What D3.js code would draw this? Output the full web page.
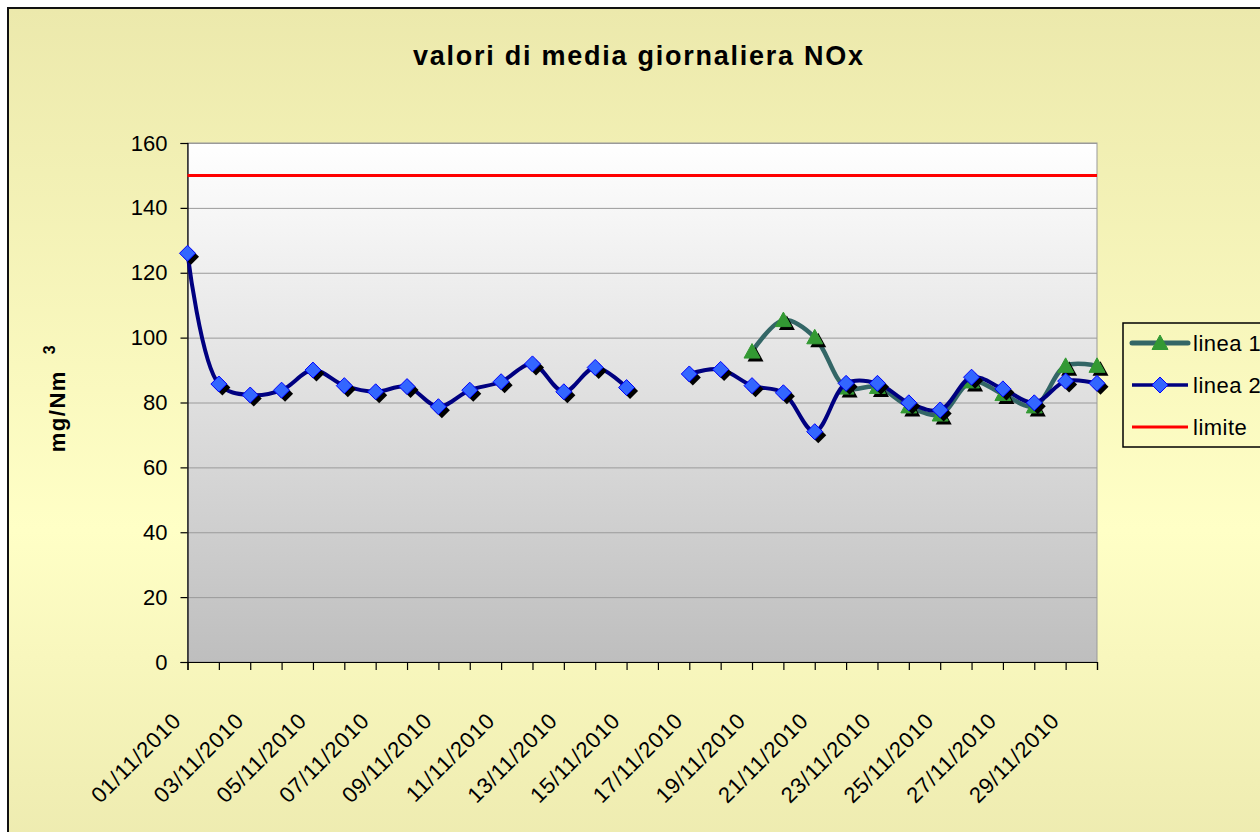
<!DOCTYPE html>
<html>
<head>
<meta charset="utf-8">
<script src="https://cdn.jsdelivr.net/npm/d3@7"></script>
<style>
  html, body { margin: 0; padding: 0; background: #fff; }
  svg { display: block; }
  text { font-family: "Liberation Sans", Arial, sans-serif; fill: #000; }
</style>
</head>
<body>
<svg id="chart"></svg>
<script>
// categories (one per day)
var dates = ["01/11/2010", "02/11/2010", "03/11/2010", "04/11/2010", "05/11/2010",
    "06/11/2010", "07/11/2010", "08/11/2010", "09/11/2010", "10/11/2010",
    "11/11/2010", "12/11/2010", "13/11/2010", "14/11/2010", "15/11/2010",
    "16/11/2010", "17/11/2010", "18/11/2010", "19/11/2010", "20/11/2010",
    "21/11/2010", "22/11/2010", "23/11/2010", "24/11/2010", "25/11/2010",
    "26/11/2010", "27/11/2010", "28/11/2010", "29/11/2010", "30/11/2010"];

// series values (null = no data)
var linea1 = [null, null, null, null, null, null, null, null, null, null,
    null, null, null, null, null, null, null, null, 95.7, 105.4,
    100.1, 84.6, 84.8, 78.8, 76.3, 86.5, 82.6, 78.8, 91.3, 91.3];

var linea2 = [126.0, 85.7, 82.3, 83.8, 90.0, 85.2, 83.3, 84.9, 78.7, 83.8,
    86.4, 91.9, 83.3, 90.8, 84.6, null, 88.8, 90.2, 85.2, 83.0,
    71.0, 85.9, 85.9, 79.9, 77.7, 87.8, 84.2, 79.9, 86.6, 85.9];

var limite = [150, 150, 150, 150, 150, 150, 150, 150, 150, 150,
    150, 150, 150, 150, 150, 150, 150, 150, 150, 150,
    150, 150, 150, 150, 150, 150, 150, 150, 150, 150];

var yTicks = [0, 20, 40, 60, 80, 100, 120, 140, 160];
var legendLabels = ["linea 1", "linea 2", "limite"];
var titleText = "valori di media giornaliera  NOx";

var width = 1260,
    height = 832,
    plotLeft = 187.5,
    plotRight = 1097,
    plotTop = 143,
    plotBottom = 662;

var svg = d3.select('#chart')
    .attr('width', width)
    .attr('height', height);

var defs = svg.append('defs');

// outer chart area: khaki -> pale yellow -> khaki
var bgGrad = defs.append('linearGradient')
    .attr('id', 'bgGrad')
    .attr('x1', 0).attr('y1', 0).attr('x2', 0).attr('y2', 1);
bgGrad.append('stop').attr('offset', '0%').attr('stop-color', '#ECE9AC');
bgGrad.append('stop').attr('offset', '58%').attr('stop-color', '#FFFFC6');
bgGrad.append('stop').attr('offset', '100%').attr('stop-color', '#EAE7AB');

// plot area: white -> grey
var plotGrad = defs.append('linearGradient')
    .attr('id', 'plotGrad')
    .attr('x1', 0).attr('y1', 0).attr('x2', 0).attr('y2', 1);
plotGrad.append('stop').attr('offset', '0%').attr('stop-color', '#FFFFFF');
plotGrad.append('stop').attr('offset', '100%').attr('stop-color', '#BEBEBE');

svg.append('rect')
    .attr('x', 8).attr('y', 8)
    .attr('width', 1320).attr('height', 900)
    .attr('fill', 'url(#bgGrad)')
    .attr('stroke', '#111')
    .attr('stroke-width', 2);

// scales
var x = d3.scalePoint()
    .domain(dates)
    .range([plotLeft, plotRight]);

var y = d3.scaleLinear()
    .domain([0, 160])
    .range([plotBottom, plotTop]);

// plot background
svg.append('rect')
    .attr('x', plotLeft).attr('y', plotTop)
    .attr('width', plotRight - plotLeft).attr('height', plotBottom - plotTop)
    .attr('fill', 'url(#plotGrad)')
    .attr('stroke', '#999')
    .attr('stroke-width', 1);

// gridlines
svg.append('g')
    .selectAll('line')
    .data(yTicks.filter(function (d) { return d > 0; }))
    .enter().append('line')
    .attr('x1', plotLeft).attr('x2', plotRight)
    .attr('y1', function (d) { return y(d) + 0.5; })
    .attr('y2', function (d) { return y(d) + 0.5; })
    .attr('stroke', '#9A9A9A')
    .attr('stroke-width', 1);

// y axis
var yAxis = svg.append('g')
    .attr('transform', 'translate(' + plotLeft + ',0)')
    .call(d3.axisLeft(y).tickValues(yTicks).tickSize(7).tickPadding(13));
yAxis.selectAll('text')
    .style('font-size', '22px')
    .style('font-family', '"Liberation Sans", Arial, sans-serif');
yAxis.selectAll('line, path').attr('stroke', '#000').attr('stroke-width', 1.2);

// x axis (ticks at every category, labels every other day)
var xAxis = svg.append('g')
    .attr('transform', 'translate(0,' + plotBottom + ')')
    .call(d3.axisBottom(x).tickSize(8).tickFormat(''));
xAxis.selectAll('line, path').attr('stroke', '#000').attr('stroke-width', 1.2);

svg.append('g')
    .selectAll('text')
    .data(dates.filter(function (d, i) { return i % 2 === 0; }))
    .enter().append('text')
    .attr('transform', function (d) { return 'translate(' + (x(d) - 5) + ',722) rotate(-45)'; })
    .attr('text-anchor', 'end')
    .style('font-size', '22px')
    .style('letter-spacing', '0.8px')
    .text(function (d) { return d; });

// title
svg.append('text')
    .attr('x', 638).attr('y', 65)
    .attr('text-anchor', 'middle')
    .attr('textLength', 450)
    .attr('lengthAdjust', 'spacing')
    .style('font-size', '27px')
    .style('font-weight', 'bold')
    .text(titleText);

// y axis title
var yTitle = svg.append('text')
    .attr('transform', 'translate(65,398) rotate(-90)')
    .attr('text-anchor', 'middle')
    .style('font-size', '22px')
    .style('font-weight', 'bold')
    .style('letter-spacing', '1.5px');
yTitle.append('tspan').text('mg/Nm');
yTitle.append('tspan')
    .attr('dx', 16).attr('dy', -10)
    .style('font-size', '16px')
    .text('3');

// lines
var line = d3.line()
    .defined(function (d) { return d.v !== null; })
    .x(function (d) { return x(d.date); })
    .y(function (d) { return y(d.v); })
    .curve(d3.curveCatmullRom.alpha(0.5));

function pts(values) {
    return dates.map(function (d, i) { return { date: d, v: values[i] }; });
}

var diamond = 'M0,-8L8,0L0,8L-8,0Z';
var triangle = 'M0,-8L8,6.5L-8,6.5Z';

function drawSeries(values, color, strokeW, markerPath, markerFill, markerStroke) {
    var data = pts(values);
    var g = svg.append('g');
    g.append('path')
        .datum(data)
        .attr('d', line)
        .attr('fill', 'none')
        .attr('stroke', color)
        .attr('stroke-width', strokeW)
        .attr('stroke-linejoin', 'round');
    var valid = data.filter(function (d) { return d.v !== null; });
    // marker shadows
    g.selectAll('.shadow')
        .data(valid)
        .enter().append('path')
        .attr('class', 'shadow')
        .attr('d', markerPath)
        .attr('transform', function (d) { return 'translate(' + (x(d.date) + 3.5) + ',' + (y(d.v) + 3.5) + ')'; })
        .attr('fill', '#000');
    g.selectAll('.marker')
        .data(valid)
        .enter().append('path')
        .attr('class', 'marker')
        .attr('d', markerPath)
        .attr('transform', function (d) { return 'translate(' + x(d.date) + ',' + y(d.v) + ')'; })
        .attr('fill', markerFill)
        .attr('stroke', markerStroke)
        .attr('stroke-width', 1);
}

drawSeries(linea1, '#336666', 4.5, triangle, '#339933', '#339933');
drawSeries(linea2, '#000080', 4, diamond, '#3366FF', '#0000FF');

svg.append('path')
    .datum(pts(limite))
    .attr('d', d3.line().x(function (d) { return x(d.date); }).y(function (d) { return y(d.v); }))
    .attr('fill', 'none')
    .attr('stroke', '#FF0000')
    .attr('stroke-width', 3);

// legend
var legend = svg.append('g');
legend.append('rect')
    .attr('x', 1123).attr('y', 323)
    .attr('width', 200).attr('height', 124)
    .attr('fill', 'none')
    .attr('stroke', '#000')
    .attr('stroke-width', 1.5);

var legendColors = ['#336666', '#000080', '#FF0000'];
var legendWidths = [5, 3.5, 3];
var legendMarkers = [triangle, diamond, null];
var legendFills = ['#339933', '#3366FF', null];

legendLabels.forEach(function (label, i) {
    var ly = 343 + i * 42;
    legend.append('line')
        .attr('x1', 1132).attr('x2', 1188)
        .attr('y1', ly).attr('y2', ly)
        .attr('stroke', legendColors[i])
        .attr('stroke-width', legendWidths[i])
        .attr('stroke-linecap', i === 0 ? 'round' : 'butt');
    if (legendMarkers[i]) {
        legend.append('path')
            .attr('d', legendMarkers[i])
            .attr('transform', 'translate(1160,' + ly + ')')
            .attr('fill', legendFills[i])
            .attr('stroke', i === 1 ? '#0000FF' : legendFills[i]);
    }
    legend.append('text')
        .attr('x', 1193).attr('y', ly + 8)
        .style('font-size', '22px')
        .style('letter-spacing', '0.5px')
        .text(label);
});
</script>
</body>
</html>
